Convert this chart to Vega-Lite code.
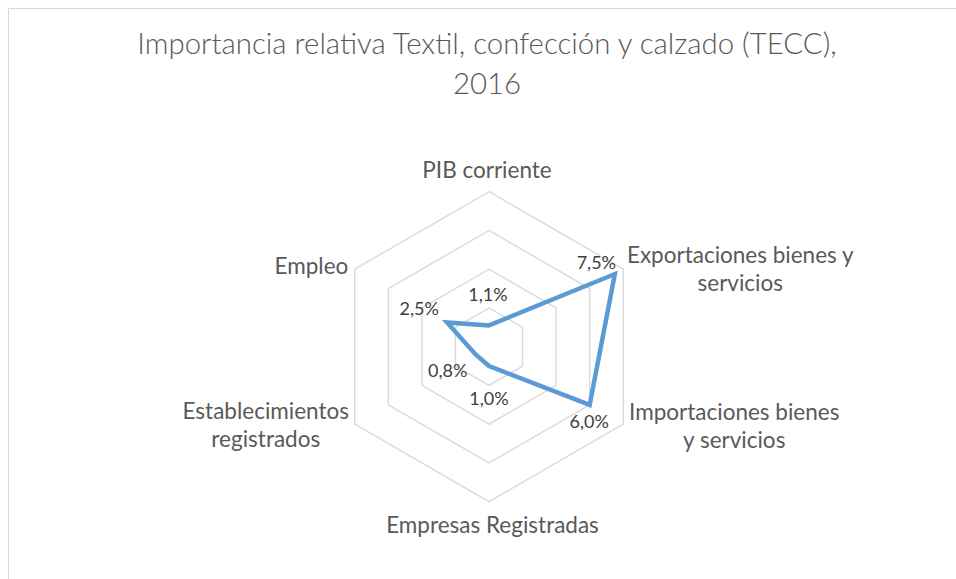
{
  "$schema": "https://vega.github.io/schema/vega-lite/v6.json",
  "autosize": {"type": "none"},
  "padding": {"left": 8, "top": 8, "right": 0, "bottom": 0},
  "width": 948,
  "height": 571,
  "background": "white",
  "config": {"view": {"stroke": "#d9d9d9", "strokeWidth": 1}},
  "title": {
    "text": ["Importancia relativa Textil, confección y calzado (TECC),", "2016"],
    "anchor": "middle",
    "frame": "group",
    "orient": "top",
    "offset": -115,
    "baseline": "alphabetic",
    "dx": 5,
    "font": "Lato",
    "fontSize": 29.4,
    "fontWeight": 300,
    "color": "#595959",
    "lineHeight": 39.5
  },
  "datasets": {
    "serie": [
      {"idx": 0, "eje": "PIB corriente", "valor": 1.1},
      {"idx": 1, "eje": "Exportaciones bienes y\nservicios", "valor": 7.5},
      {"idx": 2, "eje": "Importaciones bienes\ny servicios", "valor": 6.0},
      {"idx": 3, "eje": "Empresas Registradas", "valor": 1.0},
      {"idx": 4, "eje": "Establecimientos\nregistrados", "valor": 0.8},
      {"idx": 5, "eje": "Empleo", "valor": 2.5}
    ],
    "grid": [
      {"nivel": 2, "idx": 0}, {"nivel": 2, "idx": 1}, {"nivel": 2, "idx": 2}, {"nivel": 2, "idx": 3}, {"nivel": 2, "idx": 4}, {"nivel": 2, "idx": 5},
      {"nivel": 4, "idx": 0}, {"nivel": 4, "idx": 1}, {"nivel": 4, "idx": 2}, {"nivel": 4, "idx": 3}, {"nivel": 4, "idx": 4}, {"nivel": 4, "idx": 5},
      {"nivel": 6, "idx": 0}, {"nivel": 6, "idx": 1}, {"nivel": 6, "idx": 2}, {"nivel": 6, "idx": 3}, {"nivel": 6, "idx": 4}, {"nivel": 6, "idx": 5},
      {"nivel": 8, "idx": 0}, {"nivel": 8, "idx": 1}, {"nivel": 8, "idx": 2}, {"nivel": 8, "idx": 3}, {"nivel": 8, "idx": 4}, {"nivel": 8, "idx": 5}
    ]
  },
  "encoding": {
    "x": {"field": "cx", "type": "quantitative", "axis": null, "scale": {"domain": [-24.826, 24.103], "nice": false, "zero": false}},
    "y": {"field": "cy", "type": "quantitative", "axis": null, "scale": {"domain": [-11.99, 17.481], "nice": false, "zero": false}}
  },
  "layer": [
    {
      "data": {"name": "grid"},
      "transform": [
        {"calculate": "datum.idx * PI / 3", "as": "a"},
        {"calculate": "datum.nivel * sin(datum.a)", "as": "cx"},
        {"calculate": "datum.nivel * cos(datum.a)", "as": "cy"}
      ],
      "mark": {"type": "line", "interpolate": "linear-closed", "stroke": "#d9d9d9", "strokeWidth": 1.4},
      "encoding": {
        "detail": {"field": "nivel", "type": "nominal"},
        "order": {"field": "idx", "type": "quantitative"}
      }
    },
    {
      "data": {"name": "serie"},
      "transform": [
        {"calculate": "datum.idx * PI / 3", "as": "a"},
        {"calculate": "datum.valor * sin(datum.a)", "as": "cx"},
        {"calculate": "datum.valor * cos(datum.a)", "as": "cy"}
      ],
      "mark": {"type": "line", "interpolate": "linear-closed", "stroke": "#5b9bd5", "strokeWidth": 4.5, "strokeJoin": "miter"},
      "encoding": {
        "order": {"field": "idx", "type": "quantitative"}
      }
    },
    {
      "data": {"name": "serie"},
      "transform": [
        {"calculate": "datum.idx * PI / 3", "as": "a"},
        {"calculate": "datum.valor * sin(datum.a)", "as": "cx"},
        {"calculate": "datum.valor * cos(datum.a)", "as": "cy"},
        {"calculate": "replace(format(datum.valor, '.1f'), '.', ',') + '%'", "as": "etiqueta"}
      ],
      "encoding": {"text": {"field": "etiqueta", "type": "nominal"}},
      "layer": [
        {"transform": [{"filter": "datum.idx == 0"}], "mark": {"type": "text", "font": "Lato", "fontSize": 18, "color": "#404040", "align": "center", "baseline": "alphabetic", "dx": -1, "dy": -24.4}},
        {"transform": [{"filter": "datum.idx == 1"}], "mark": {"type": "text", "font": "Lato", "fontSize": 18, "color": "#404040", "align": "center", "baseline": "alphabetic", "dx": -18.5, "dy": -5.5}},
        {"transform": [{"filter": "datum.idx == 2"}], "mark": {"type": "text", "font": "Lato", "fontSize": 18, "color": "#404040", "align": "center", "baseline": "alphabetic", "dx": -0.4, "dy": 23.5}},
        {"transform": [{"filter": "datum.idx == 3"}], "mark": {"type": "text", "font": "Lato", "fontSize": 18, "color": "#404040", "align": "center", "baseline": "alphabetic", "dx": 0, "dy": 39}},
        {"transform": [{"filter": "datum.idx == 4"}], "mark": {"type": "text", "font": "Lato", "fontSize": 18, "color": "#404040", "align": "center", "baseline": "alphabetic", "dx": -27.8, "dy": 22.5}},
        {"transform": [{"filter": "datum.idx == 5"}], "mark": {"type": "text", "font": "Lato", "fontSize": 18, "color": "#404040", "align": "center", "baseline": "alphabetic", "dx": -27.8, "dy": -7.5}}
      ]
    },
    {
      "data": {"name": "serie"},
      "transform": [
        {"calculate": "datum.idx * PI / 3", "as": "a"},
        {"calculate": "8 * sin(datum.a)", "as": "cx"},
        {"calculate": "8 * cos(datum.a)", "as": "cy"}
      ],
      "encoding": {"text": {"field": "eje", "type": "nominal"}},
      "layer": [
        {"transform": [{"filter": "datum.idx == 0"}], "mark": {"type": "text", "font": "Lato", "fontSize": 22.5, "color": "#595959", "align": "center", "baseline": "alphabetic", "lineBreak": "\n", "lineHeight": 27.7, "dx": -2, "dy": -13.4}},
        {"transform": [{"filter": "datum.idx == 1"}], "mark": {"type": "text", "font": "Lato", "fontSize": 22.5, "color": "#595959", "align": "center", "baseline": "alphabetic", "lineBreak": "\n", "lineHeight": 27.7, "dx": 117, "dy": -5.9}},
        {"transform": [{"filter": "datum.idx == 2"}], "mark": {"type": "text", "font": "Lato", "fontSize": 22.5, "color": "#595959", "align": "center", "baseline": "alphabetic", "lineBreak": "\n", "lineHeight": 27.7, "dx": 111, "dy": -4.2}},
        {"transform": [{"filter": "datum.idx == 3"}], "mark": {"type": "text", "font": "Lato", "fontSize": 22.5, "color": "#595959", "align": "center", "baseline": "alphabetic", "lineBreak": "\n", "lineHeight": 27.7, "dx": 3.5, "dy": 31.6}},
        {"transform": [{"filter": "datum.idx == 4"}], "mark": {"type": "text", "font": "Lato", "fontSize": 22.5, "color": "#595959", "align": "center", "baseline": "alphabetic", "lineBreak": "\n", "lineHeight": 27.7, "dx": -89, "dy": -4.9}},
        {"transform": [{"filter": "datum.idx == 5"}], "mark": {"type": "text", "font": "Lato", "fontSize": 22.5, "color": "#595959", "align": "right", "baseline": "alphabetic", "lineBreak": "\n", "lineHeight": 27.7, "dx": -6.5, "dy": 4.8}}
      ]
    }
  ]
}
